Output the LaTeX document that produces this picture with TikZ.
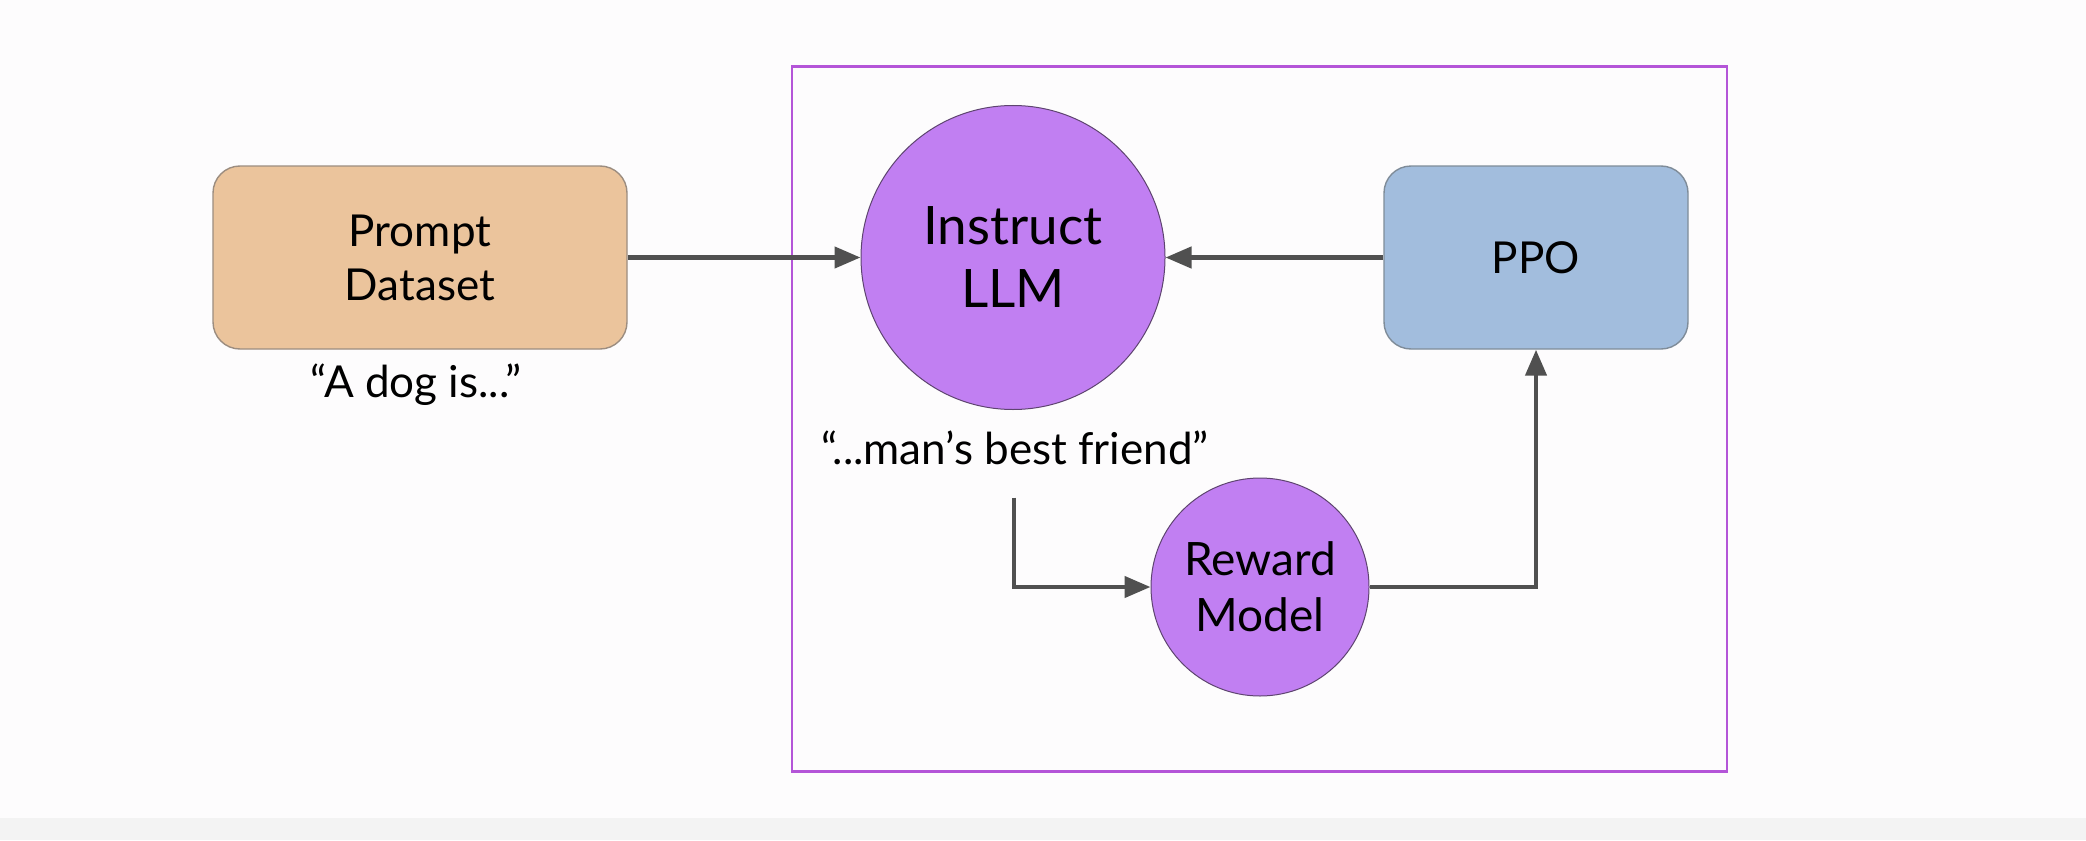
\documentclass[tikz,border=0pt]{standalone}
\usepackage{fontspec}
\setmainfont{Lato}
\usetikzlibrary{arrows.meta}
\definecolor{bgc}{HTML}{FDFCFD}
\definecolor{stripc}{HTML}{F3F3F3}
\definecolor{framec}{HTML}{B455D8}
\definecolor{tanc}{HTML}{EBC49C}
\definecolor{tanb}{HTML}{9C8D80}
\definecolor{bluec}{HTML}{A2BDDD}
\definecolor{blueb}{HTML}{7F8C99}
\definecolor{purc}{HTML}{C17FF2}
\definecolor{purb}{HTML}{5E4470}
\definecolor{arrc}{HTML}{505050}
\tikzset{
  rbox/.style={draw, line width=0.7pt, rounded corners=13.5pt, minimum height=91.5pt, align=center, font=\fontsize{22}{27}\selectfont, inner sep=0pt},
  rcirc/.style={circle, draw=purb, fill=purc, line width=0.5pt, align=center, inner sep=0pt},
  conn/.style={draw=arrc, line width=2.2pt, -{Triangle[length=13pt,width=10.5pt]}},
  qtext/.style={font=\fontsize{22}{26}\selectfont, inner sep=0pt}
}
\begin{document}
\begin{tikzpicture}[x=0.5pt,y=-0.5pt]
\fill[bgc] (0,0) rectangle (2086,840);
\fill[stripc] (0,818) rectangle (2086,840);
\useasboundingbox (0,0) rectangle (2086,840);
\draw[framec, line width=1.3pt] (792,66.5) rectangle (1727,771.6);
\node[rbox, fill=tanc, draw=tanb, minimum width=207pt] (prompt) at (420,257.5) {Prompt\\Dataset};
\node[rbox, fill=bluec, draw=blueb, minimum width=152pt] (ppo) at (1536,257.5) {PPO};
\node[rcirc, minimum size=152pt, font=\fontsize{26.5}{31.5}\selectfont] (llm) at (1013,257.5) {Instruct\\LLM};
\node[rcirc, minimum size=109pt, font=\fontsize{23}{28}\selectfont] (rm) at (1260,587) {Reward\\Model};
\node[qtext] (dog) at (416,385) {“A dog is...”};
\node[qtext] (friend) at (1015,448) {“...man’s best friend”};
\coordinate (start) at (1014,497.6);
\draw[conn] (prompt.east) -- (llm.west);
\draw[conn] (ppo.west) -- (llm.east);
\draw[conn] (start) |- (rm.west);
\draw[conn] (rm.east) -| (ppo.south);
\end{tikzpicture}
\end{document}
